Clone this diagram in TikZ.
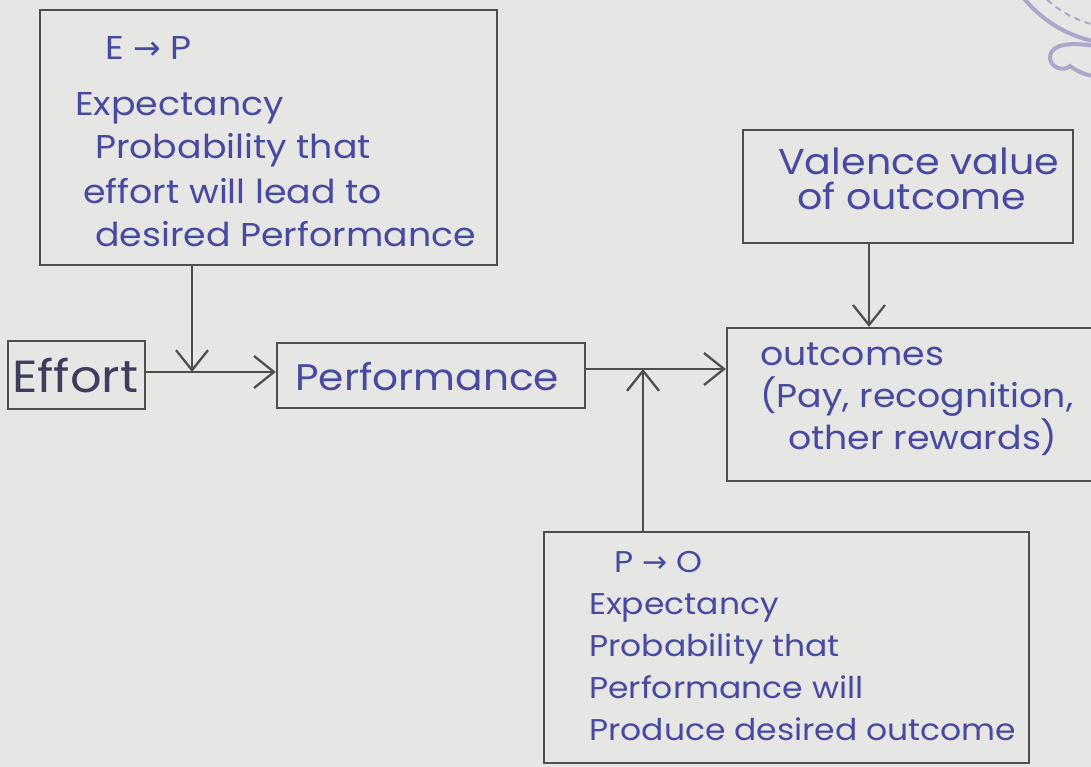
\documentclass[tikz,border=0pt]{standalone}
\usepackage{fontspec}
\setmainfont{Poppins}[FakeStretch=1.1]
\newfontfamily\arrowfont{DejaVu Sans}
\usetikzlibrary{arrows.meta}
\definecolor{paper}{RGB}{230,230,229}
\definecolor{pencil}{RGB}{78,78,80}
\definecolor{ink}{RGB}{72,74,160}
\definecolor{darkink}{RGB}{62,62,92}
\definecolor{stamp}{RGB}{170,168,205}
\newcommand{\ar}{{\arrowfont →}}
\tikzset{
  box/.style={draw=pencil, line width=2.3pt, rectangle, inner sep=0pt},
  % texts are placed by the baseline of their last line
  txt/.style={text=ink, align=left, inner sep=0pt, anchor=base west},
  link/.style={draw=pencil, line width=2.3pt,
    -{Straight Barb[length=20pt,width=32pt,line width=2.3pt]}},
}
\begin{document}
\begin{tikzpicture}[x=1pt,y=-1pt]
\fill[paper] (0,0) rectangle (1091,767);
\useasboundingbox (0,0) rectangle (1091,767);

% faint library stamp in the corner
\begin{scope}
\clip (0,0) rectangle (1091,767);
\draw[stamp, line width=4pt] (1120,-80) circle (124pt);
\draw[stamp, line width=2pt, dash pattern=on 6pt off 5pt] (1120,-80) circle (108pt);
\draw[stamp, line width=4pt] (1095,46) .. controls (1070,42) and (1052,44) .. (1050,56)
  .. controls (1049,68) and (1064,72) .. (1070,66)
  .. controls (1078,72) and (1088,76) .. (1095,76);
\end{scope}

% boxes
\node[box, minimum width=457pt, minimum height=255pt] (ep) at (268.5,137.5) {};
\node[box, minimum width=137pt, minimum height=68pt] (effort) at (76.5,375) {};
\node[box, minimum width=308pt, minimum height=65pt] (perf) at (431,375.5) {};
\node[box, minimum width=330pt, minimum height=113pt] (val) at (908,186.5) {};
\node[box, minimum width=366pt, minimum height=153pt] (out) at (910,404.5) {};
\node[box, minimum width=485pt, minimum height=231pt] (po) at (786.5,647.5) {};

% texts
\node[txt, font=\fontsize{33}{44}\selectfont] (ep-t) at (75,247)
  {\hspace*{30pt}E \ar{} P\\[11pt]
   Expectancy\\
   \hspace*{20pt}Probability that\\
   \hspace*{8pt}effort will lead to\\
   \hspace*{20pt}desired Performance};
\node[txt, text=darkink, font=\fontsize{45}{50}\selectfont] (effort-t) at (12,392) {Effort};
\node[txt, font=\fontsize{37}{44}\selectfont] (perf-t) at (295,390) {Performance};
\node[txt, font=\fontsize{36}{35}\selectfont] (val-t) at (778,210)
  {Valence value\\\hspace*{19pt}of outcome};
\node[txt, font=\fontsize{33}{42}\selectfont] (out-t) at (760,449)
  {outcomes\\(Pay, recognition,\\\hspace*{28pt}other rewards)};
\node[txt, font=\fontsize{30}{42}\selectfont] (po-t) at (589,740)
  {\hspace*{25pt}P \ar{} O\\
   Expectancy\\
   Probability that\\
   Performance will\\
   Produce desired outcome};

% junction points on the chain
\coordinate (j1) at (192,372);
\coordinate (j2) at (643,369);
\coordinate (j3) at (869,0);

\draw[link] (effort.east |- j1) -- (perf.west |- j1);
\draw[link] (ep.south -| j1) -- (j1);
\draw[link] (perf.east |- j2) -- (out.west |- j2);
\draw[link] (po.north -| j2) -- (j2);
\draw[link] (val.south -| j3) -- (out.north -| j3);
\end{tikzpicture}
\end{document}
